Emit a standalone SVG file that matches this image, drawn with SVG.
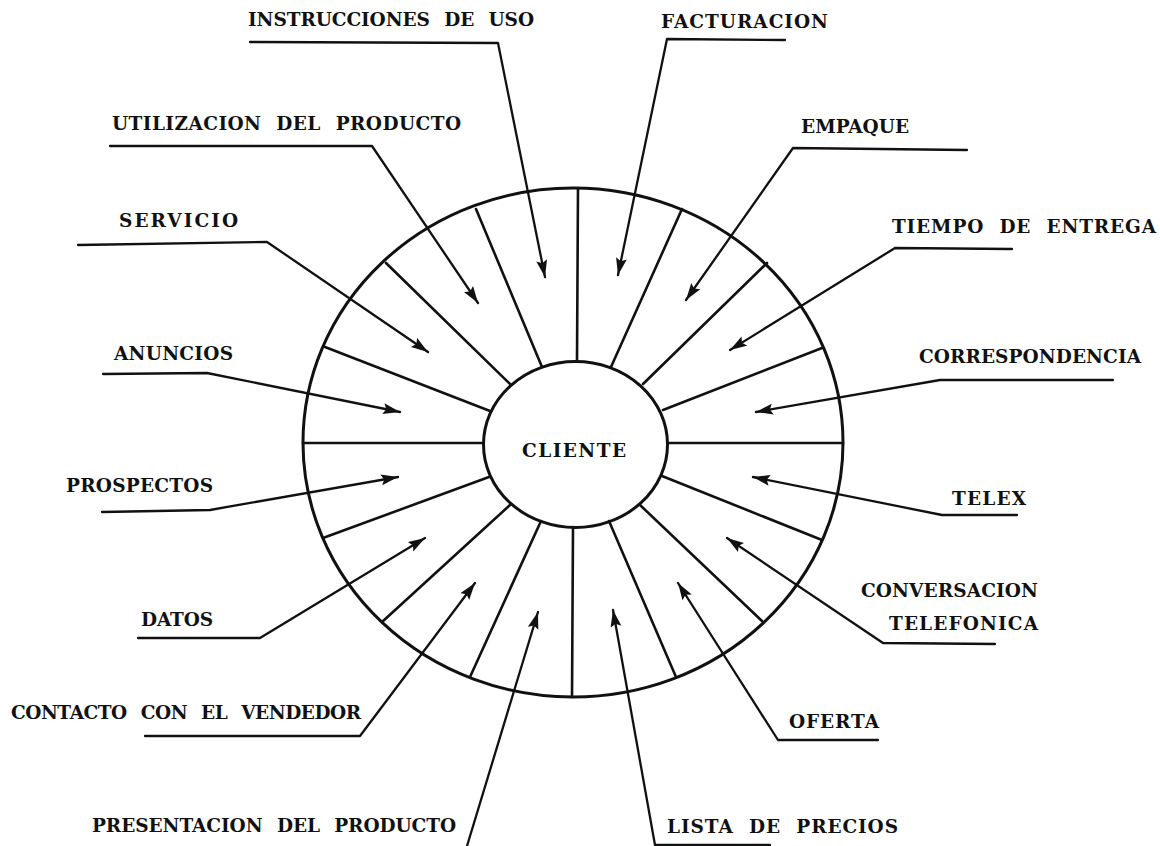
<svg xmlns="http://www.w3.org/2000/svg" width="1160" height="846" viewBox="0 0 1160 846">
  <defs>
    <style>
      .bg { fill: #ffffff; }
      .ring { fill: none; stroke: #111; stroke-width: 3; }
      .spoke { fill: none; stroke: #111; stroke-width: 2.6; stroke-linecap: round; }
      .lead { fill: none; stroke: #111; stroke-width: 2.3; stroke-linejoin: round; stroke-linecap: round; marker-end: url(#arrow); }
      .lbl { font-family: "DejaVu Serif", "Liberation Serif", serif; font-weight: bold; font-size: 18.5px; word-spacing: 8px; fill: #111; }
    </style>
    <marker id="arrow" markerUnits="userSpaceOnUse" markerWidth="20" markerHeight="12" refX="17" refY="5.5" orient="auto">
      <path d="M0,0 L17,5.5 L0,11 L3,5.5 Z" fill="#111"/>
    </marker>
  </defs>

  <rect class="bg" x="0" y="0" width="1160" height="846"/>

  <!-- wheel: outer rim and sixteen spokes -->
  <g id="wheel">
    <ellipse class="ring" cx="573" cy="442.5" rx="270" ry="254.5"/>
    <line class="spoke" x1="578" y1="188" x2="577" y2="361"/>
    <line class="spoke" x1="476" y1="209" x2="542" y2="367"/>
    <line class="spoke" x1="386" y1="263" x2="511" y2="385"/>
    <line class="spoke" x1="325" y1="347" x2="490" y2="411"/>
    <line class="spoke" x1="303" y1="443" x2="483" y2="443"/>
    <line class="spoke" x1="323" y1="538" x2="489" y2="477"/>
    <line class="spoke" x1="382" y1="622" x2="510" y2="505"/>
    <line class="spoke" x1="470" y1="677" x2="541" y2="521"/>
    <line class="spoke" x1="572" y1="697" x2="573" y2="527"/>
    <line class="spoke" x1="676" y1="677" x2="609" y2="521"/>
    <line class="spoke" x1="762" y1="621" x2="640" y2="505"/>
    <line class="spoke" x1="822" y1="540" x2="662" y2="476"/>
    <line class="spoke" x1="843" y1="443" x2="668" y2="443"/>
    <line class="spoke" x1="822" y1="348" x2="663" y2="410"/>
    <line class="spoke" x1="767" y1="263" x2="643" y2="384"/>
    <line class="spoke" x1="682" y1="209" x2="611" y2="367"/>
  </g>

  <!-- hub -->
  <g id="cliente">
    <ellipse class="ring" cx="575.5" cy="444.5" rx="92" ry="83" fill="#fff"/>
    <text class="lbl" x="522" y="457" textLength="104" lengthAdjust="spacing">CLIENTE</text>
  </g>

  <!-- leaders: label underline, then a line ending in an arrow inside its sector -->
  <g id="connectors">
    <polyline class="lead" points="250,42 498,43 545,277"/>
    <polyline class="lead" points="785,40 667,39 618,275"/>
    <polyline class="lead" points="110,146 372,146 478,303"/>
    <polyline class="lead" points="967,150 793,148 686,300"/>
    <polyline class="lead" points="78,245 267,242 428,352"/>
    <polyline class="lead" points="1012,249 895,248 730,350"/>
    <polyline class="lead" points="103,374 207,373 400,412"/>
    <polyline class="lead" points="1113,380 940,380 756,412"/>
    <polyline class="lead" points="102,512 210,510 398,477"/>
    <polyline class="lead" points="1017,515 942,515 753,477"/>
    <polyline class="lead" points="138,638 260,638 425,538"/>
    <polyline class="lead" points="995,644 883,643 727,538"/>
    <polyline class="lead" points="145,736 360,736 475,583"/>
    <polyline class="lead" points="878,740 778,740 678,583"/>
    <polyline class="lead" points="467,846 538,612"/>
    <polyline class="lead" points="770,845 655,845 613,610"/>
  </g>

  <g id="instrucciones-de-uso"><text class="lbl" x="248" y="26" textLength="286" lengthAdjust="spacing">INSTRUCCIONES DE USO</text></g>
  <g id="facturacion"><text class="lbl" x="661" y="28" textLength="167" lengthAdjust="spacing">FACTURACION</text></g>
  <g id="utilizacion-del-producto"><text class="lbl" x="112" y="130" textLength="349" lengthAdjust="spacing">UTILIZACION DEL PRODUCTO</text></g>
  <g id="empaque"><text class="lbl" x="801" y="133" textLength="108" lengthAdjust="spacing">EMPAQUE</text></g>
  <g id="servicio"><text class="lbl" x="119" y="227" textLength="119" lengthAdjust="spacing">SERVICIO</text></g>
  <g id="tiempo-de-entrega"><text class="lbl" x="892" y="233" textLength="264" lengthAdjust="spacing">TIEMPO DE ENTREGA</text></g>
  <g id="anuncios"><text class="lbl" x="114" y="360" textLength="119" lengthAdjust="spacing">ANUNCIOS</text></g>
  <g id="correspondencia"><text class="lbl" x="919" y="363" textLength="222" lengthAdjust="spacing">CORRESPONDENCIA</text></g>
  <g id="prospectos"><text class="lbl" x="66" y="492" textLength="147" lengthAdjust="spacing">PROSPECTOS</text></g>
  <g id="telex"><text class="lbl" x="952" y="505" textLength="74" lengthAdjust="spacing">TELEX</text></g>
  <g id="datos"><text class="lbl" x="141" y="626" textLength="72" lengthAdjust="spacing">DATOS</text></g>
  <g id="conversacion-telefonica">
    <text class="lbl" x="861" y="597" textLength="177" lengthAdjust="spacing">CONVERSACION</text>
    <text class="lbl" x="889" y="630" textLength="149" lengthAdjust="spacing">TELEFONICA</text>
  </g>
  <g id="contacto-con-el-vendedor"><text class="lbl" x="11" y="719" textLength="350" lengthAdjust="spacing">CONTACTO CON EL VENDEDOR</text></g>
  <g id="oferta"><text class="lbl" x="789" y="728" textLength="90" lengthAdjust="spacing">OFERTA</text></g>
  <g id="presentacion-del-producto"><text class="lbl" x="92" y="832" textLength="364" lengthAdjust="spacing">PRESENTACION DEL PRODUCTO</text></g>
  <g id="lista-de-precios"><text class="lbl" x="667" y="833" textLength="231" lengthAdjust="spacing">LISTA DE PRECIOS</text></g>
</svg>
